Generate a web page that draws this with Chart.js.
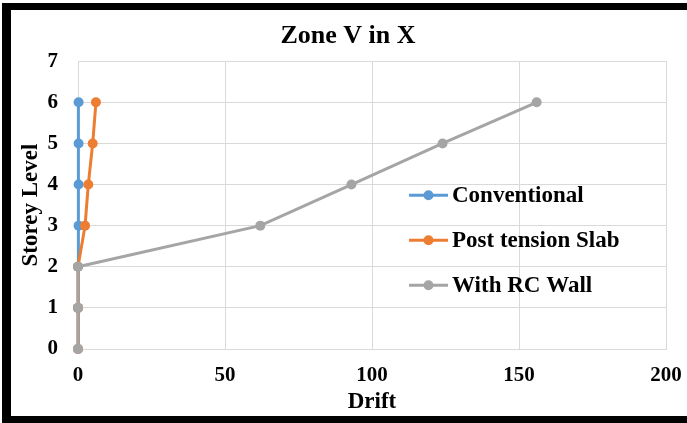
<!DOCTYPE html>
<html>
<head>
<meta charset="utf-8">
<script src="https://cdn.jsdelivr.net/npm/chart.js@4/dist/chart.umd.min.js"></script>
<style>
  html, body { margin: 0; padding: 0; background: #fff; }
  #wrap { position: relative; width: 687px; height: 423px; overflow: hidden; }
  #frame {
    position: absolute; left: 2px; top: 3px; right: 0; bottom: 0;
    border-left: 9px solid #000; border-top: 7px solid #000; border-bottom: 7px solid #000;
    pointer-events: none;
  }
  canvas { position: absolute; left: 0; top: 0; }
</style>
</head>
<body>
<div id="wrap">
  <canvas id="chart" width="687" height="423"></canvas>
  <div id="frame"></div>
</div>
<script>
// storey levels and drift values
const storeys = [0, 1, 2, 3, 4, 5, 6];
const conventional = [0, 0, 0, 0.2, 0.2, 0.2, 0.2];
const postTension = [0, 0, 0, 2.4, 3.5, 5.0, 6.1];
const rcWall = [0, 0, 0, 62, 93, 124, 156];
const seriesNames = ['Conventional', 'Post tension Slab', 'With RC Wall'];
const seriesColors = ['#5B9BD5', '#ED7D31', '#A5A5A5'];
const xTicks = [0, 50, 100, 150, 200];
const yTicks = [0, 1, 2, 3, 4, 5, 6, 7];

const serif = "'Liberation Serif', 'Times New Roman', serif";

function toPoints(values) {
    return values.map((v, i) => ({ x: v, y: storeys[i] }));
}

// legend sits inside the plot area, like the Excel original
const innerLegend = {
    id: 'innerLegend',
    afterDraw(chart) {
        const ctx = chart.ctx;
        const area = chart.chartArea;
        const left = 409;
        const top = area.top + 134;
        ctx.save();
        ctx.font = "bold 23px " + serif;
        ctx.textBaseline = 'middle';
        ctx.fillStyle = '#000';
        chart.data.datasets.forEach((ds, i) => {
            const y = top + i * 45;
            ctx.strokeStyle = ds.borderColor;
            ctx.lineWidth = 3;
            ctx.beginPath();
            ctx.moveTo(left, y);
            ctx.lineTo(left + 39, y);
            ctx.stroke();
            ctx.fillStyle = ds.backgroundColor;
            ctx.beginPath();
            ctx.arc(left + 19.5, y, 5, 0, Math.PI * 2);
            ctx.fill();
            ctx.fillStyle = '#000';
            ctx.fillText(ds.label, left + 43, y + 1);
        });
        ctx.restore();
    }
};

const grid = '#d9d9d9';

new Chart(document.getElementById('chart'), {
    type: 'scatter',
    data: {
        datasets: [
            { label: seriesNames[0], data: toPoints(conventional), order: 3 },
            { label: seriesNames[1], data: toPoints(postTension), order: 2 },
            { label: seriesNames[2], data: toPoints(rcWall), order: 1 }
        ].map((ds, i) => Object.assign(ds, {
            showLine: true,
            clip: false,
            borderColor: seriesColors[i],
            backgroundColor: seriesColors[i],
            borderWidth: 3,
            pointRadius: 5,
            pointHoverRadius: 5,
            pointBorderWidth: 0
        }))
    },
    options: {
        responsive: false,
        animation: false,
        layout: { padding: { left: 12, right: 3, top: 10, bottom: 7 } },
        plugins: {
            legend: { display: false },
            tooltip: { enabled: false },
            title: {
                display: true,
                text: 'Zone V in X',
                color: '#000',
                font: { family: serif, size: 26, weight: 'bold' },
                padding: { top: 11, bottom: 9 }
            }
        },
        scales: {
            x: {
                type: 'linear',
                min: 0,
                max: 200,
                afterBuildTicks: (scale) => { scale.ticks = xTicks.map(v => ({ value: v })); },
                afterFit: (scale) => { scale.height = 67; scale.paddingRight = 21; },
                grid: { color: grid, drawTicks: false },
                border: { color: grid },
                ticks: {
                    color: '#000',
                    padding: 14,
                    font: { family: serif, size: 21, weight: 'bold' }
                },
                title: {
                    display: true,
                    text: 'Drift',
                    color: '#000',
                    padding: { top: 0, bottom: 0 },
                    font: { family: serif, size: 23, weight: 'bold' }
                }
            },
            y: {
                min: 0,
                max: 7,
                afterBuildTicks: (scale) => { scale.ticks = yTicks.map(v => ({ value: v })); },
                afterFit: (scale) => { scale.width = 66; },
                grid: { color: grid, drawTicks: false },
                border: { color: grid },
                ticks: {
                    color: '#000',
                    padding: 20,
                    font: { family: serif, size: 21, weight: 'bold' }
                },
                title: {
                    display: true,
                    text: 'Storey Level',
                    color: '#000',
                    padding: { top: 5, bottom: 0 },
                    font: { family: serif, size: 23, weight: 'bold' }
                }
            }
        }
    },
    plugins: [innerLegend]
});
</script>
</body>
</html>
